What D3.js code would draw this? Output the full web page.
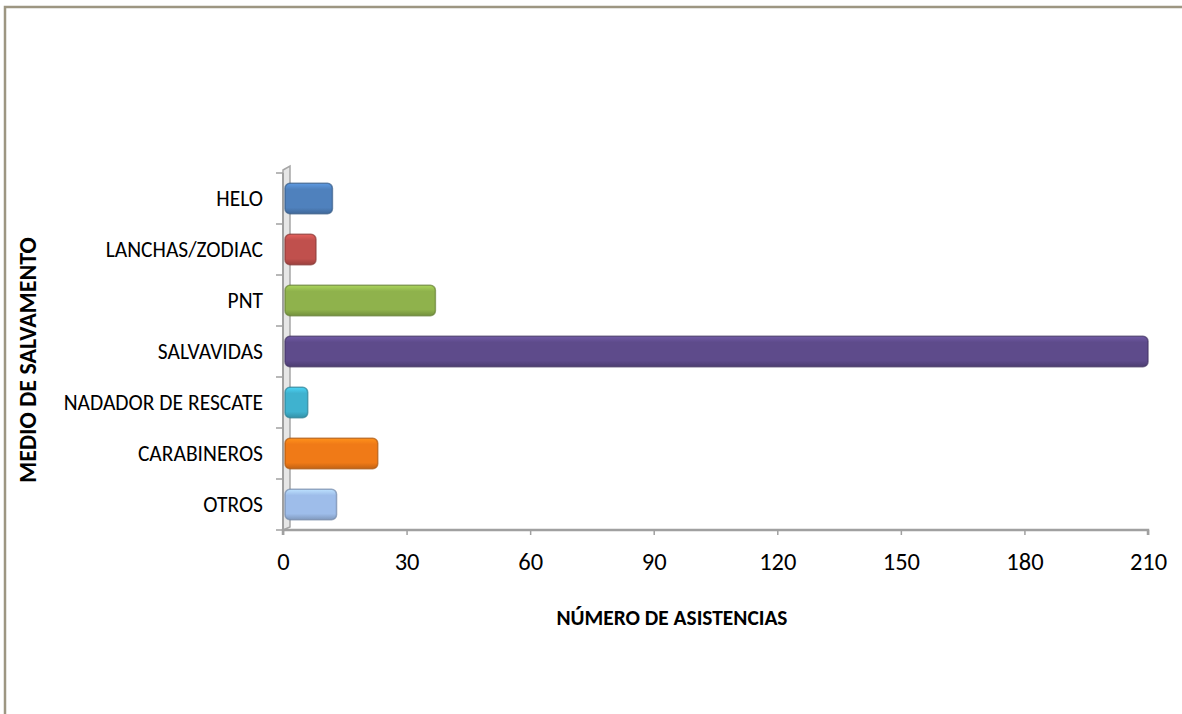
<!DOCTYPE html>
<html>
<head>
<meta charset="utf-8">
<script src="https://cdn.jsdelivr.net/npm/d3@7"></script>
<style>
  body { margin: 0; background: #fff; }
  text { font-family: Carlito, Calibri, "Open Sans", sans-serif; fill: #000; }
</style>
</head>
<body>
<div id="graph"></div>
<script>
var categories = ["HELO", "LANCHAS/ZODIAC", "PNT", "SALVAVIDAS", "NADADOR DE RESCATE", "CARABINEROS", "OTROS"];
var values = [12, 8, 37, 210, 6, 23, 13];
var colors = ["#4f81bd", "#c0504d", "#8fb24c", "#5e4b8b", "#3fb2cf", "#f07a17", "#9ebdea"];
var xTicks = [0, 30, 60, 90, 120, 150, 180, 210];

var W = 1182, H = 714;
var margin = {top: 173, right: 34, bottom: 184, left: 283},
    width = W - margin.left - margin.right,
    height = H - margin.top - margin.bottom;

var svg = d3.select("#graph").append("svg")
    .attr("width", W)
    .attr("height", H);

// outer frame (top and left only visible)
svg.append("path")
    .attr("d", "M5,720 L5,7 L1190,7")
    .attr("fill", "none")
    .attr("stroke", "#9d9682")
    .attr("stroke-width", 2.5);

var defs = svg.append("defs");
colors.forEach(function(c, i) {
  var g = defs.append("linearGradient")
      .attr("id", "grad" + i)
      .attr("x1", 0).attr("y1", 0).attr("x2", 0).attr("y2", 1);
  g.append("stop").attr("offset", "0%").attr("stop-color", d3.color(c).brighter(0.5));
  g.append("stop").attr("offset", "20%").attr("stop-color", c);
  g.append("stop").attr("offset", "80%").attr("stop-color", c);
  g.append("stop").attr("offset", "100%").attr("stop-color", d3.color(c).darker(0.6));
});

var g = svg.append("g")
    .attr("transform", "translate(" + margin.left + "," + margin.top + ")");

var x = d3.scaleLinear().domain([0, 210]).range([0, width]);
var y = d3.scaleBand().domain(categories).range([0, height]).paddingInner(0.4).paddingOuter(0.2);

// 3D wall
g.append("path")
    .attr("d", "M0,-3 L7,-7 L7," + (height - 3) + " L0," + height + " Z")
    .attr("fill", "#e6e6e6")
    .attr("stroke", "#a6a6a6")
    .attr("stroke-width", 1.5);

// x axis
var xAxis = d3.axisBottom(x).tickValues(xTicks).tickSize(5).tickPadding(18);
var gx = g.append("g")
    .attr("transform", "translate(0," + height + ")")
    .call(xAxis);
gx.select(".domain").attr("stroke", "#a0a0a0").attr("stroke-width", 2.5)
    .attr("d", "M0,5V0H" + width + "V5");
gx.selectAll(".tick line").attr("stroke", "#a0a0a0").attr("stroke-width", 1.5);
gx.selectAll(".tick text").style("font-size", "24.5px");

// y axis ticks at band boundaries
var bounds = d3.range(categories.length + 1).map(function(i) { return i * height / categories.length; });
g.selectAll(".ytick")
    .data(bounds)
  .enter().append("line")
    .attr("x1", -7).attr("x2", 0)
    .attr("y1", function(d) { return d; })
    .attr("y2", function(d) { return d; })
    .attr("stroke", "#a0a0a0")
    .attr("stroke-width", 1.5);
g.append("line")
    .attr("x1", 0).attr("x2", 0).attr("y1", 0).attr("y2", height)
    .attr("stroke", "#a0a0a0").attr("stroke-width", 2);

g.selectAll(".ylabel")
    .data(categories)
  .enter().append("text")
    .attr("x", -20)
    .attr("y", function(d) { return y(d) + y.bandwidth() / 2; })
    .attr("dy", "0.35em")
    .attr("text-anchor", "end")
    .style("font-size", "21.5px")
    .text(function(d) { return d; });

// bars
g.selectAll(".bar")
    .data(values)
  .enter().append("rect")
    .attr("class", "bar")
    .attr("x", 2)
    .attr("y", function(d, i) { return y(categories[i]); })
    .attr("width", function(d) { return x(d) - 2; })
    .attr("height", y.bandwidth())
    .attr("rx", 5)
    .attr("fill", function(d, i) { return "url(#grad" + i + ")"; })
    .attr("stroke", function(d, i) { return d3.color(colors[i]).darker(0.9); })
    .attr("stroke-opacity", 0.7)
    .attr("stroke-width", 1.5);

// axis titles
svg.append("text")
    .attr("x", 672)
    .attr("y", 625)
    .attr("text-anchor", "middle")
    .style("font-size", "21.4px")
    .style("font-weight", "bold")
    .text("NÚMERO DE ASISTENCIAS");

svg.append("text")
    .attr("transform", "translate(36,360) rotate(-90)")
    .attr("text-anchor", "middle")
    .style("font-size", "24px")
    .style("font-weight", "bold")
    .text("MEDIO DE SALVAMENTO");
</script>
</body>
</html>
